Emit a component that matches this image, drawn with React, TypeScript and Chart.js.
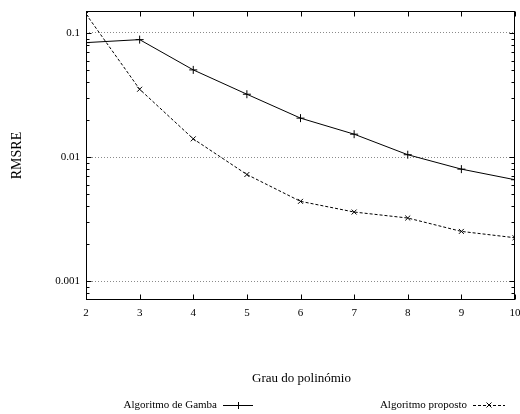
import React, { useEffect, useRef } from "react";
import { Chart, registerables } from "chart.js";

Chart.register(...registerables);

const degrees = [2, 3, 4, 5, 6, 7, 8, 9, 10];
const gambaValues = [0.0836, 0.0884, 0.0504, 0.0321, 0.0206, 0.0153, 0.01045, 0.008, 0.00657];
const propostoValues = [0.142, 0.0352, 0.01403, 0.00724, 0.0044, 0.00361, 0.00323, 0.00252, 0.00224];
const yTickValues = [0.001, 0.01, 0.1];
const seriesNames = ["Algoritmo de Gamba", "Algoritmo proposto"];
const xTitle = "Grau do polinómio";
const yTitle = "RMSRE";

const FONT = "'Liberation Serif', 'Times New Roman', serif";

const framePlugin = {
  id: "gnuplotFrame",
  afterDatasetsDraw(chart: any) {
    const { ctx, chartArea } = chart;
    const xs = chart.scales.x;
    const ys = chart.scales.y;
    const L = Math.round(chartArea.left) + 0.5;
    const R = Math.round(chartArea.right) - 0.5;
    const T = Math.round(chartArea.top) + 0.5;
    const B = Math.round(chartArea.bottom) - 0.5;
    ctx.save();
    ctx.strokeStyle = "#000";
    ctx.lineWidth = 1;
    ctx.setLineDash([]);
    ctx.strokeRect(L, T, R - L, B - T);
    ctx.beginPath();
    // x ticks (bottom and top, inward)
    for (const d of degrees) {
      const px = Math.round(xs.getPixelForValue(d)) + 0.5;
      ctx.moveTo(px, B);
      ctx.lineTo(px, B - 5);
      ctx.moveTo(px, T);
      ctx.lineTo(px, T + 5);
    }
    // y ticks (left and right, inward), major and minor
    for (let e = -5; e <= 0; e++) {
      for (let m = 1; m <= 9; m++) {
        const v = m * Math.pow(10, e);
        if (v < ys.min || v > ys.max) continue;
        const py = Math.round(ys.getPixelForValue(v)) + 0.5;
        const len = m === 1 ? 5 : 3;
        ctx.moveTo(L, py);
        ctx.lineTo(L + len, py);
        ctx.moveTo(R, py);
        ctx.lineTo(R - len, py);
      }
    }
    ctx.stroke();

    // axis titles
    ctx.fillStyle = "#000";
    ctx.font = `13px ${FONT}`;
    ctx.textAlign = "center";
    ctx.textBaseline = "middle";
    ctx.fillText(xTitle, (chartArea.left + chartArea.right) / 2 + 1, 379);
    ctx.save();
    ctx.translate(17, (chartArea.top + chartArea.bottom) / 2);
    ctx.rotate(-Math.PI / 2);
    ctx.font = `14px ${FONT}`;
    ctx.fillText(yTitle, 0, 0);
    ctx.restore();

    // legend
    const legendY = 405;
    const entries = [
      { text: seriesNames[0], textRight: 217, x1: 223, x2: 253, dash: [] as number[], style: "cross" },
      { text: seriesNames[1], textRight: 467, x1: 473, x2: 505, dash: [3, 2], style: "crossRot" },
    ];
    ctx.font = `11px ${FONT}`;
    ctx.textAlign = "right";
    for (const en of entries) {
      ctx.fillText(en.text, en.textRight, legendY);
      ctx.beginPath();
      ctx.setLineDash(en.dash);
      ctx.moveTo(en.x1, legendY + 0.5);
      ctx.lineTo(en.x2, legendY + 0.5);
      ctx.stroke();
      ctx.setLineDash([]);
      const cx = (en.x1 + en.x2) / 2;
      ctx.beginPath();
      if (en.style === "cross") {
        ctx.moveTo(cx - 3.5, legendY + 0.5);
        ctx.lineTo(cx + 3.5, legendY + 0.5);
        ctx.moveTo(cx + 0.5, legendY - 3);
        ctx.lineTo(cx + 0.5, legendY + 4);
      } else {
        ctx.moveTo(cx - 2.5, legendY - 2.5);
        ctx.lineTo(cx + 2.5, legendY + 2.5);
        ctx.moveTo(cx - 2.5, legendY + 2.5);
        ctx.lineTo(cx + 2.5, legendY - 2.5);
      }
      ctx.stroke();
    }
    ctx.restore();
  },
};

export default function App() {
  const canvasRef = useRef<HTMLCanvasElement | null>(null);

  useEffect(() => {
    const canvas = canvasRef.current;
    if (!canvas) return;
    const chart = new Chart(canvas, {
      type: "line",
      data: {
        datasets: [
          {
            label: seriesNames[0],
            data: degrees.map((d, i) => ({ x: d, y: gambaValues[i] })),
            borderColor: "#000",
            backgroundColor: "#000",
            borderWidth: 1,
            pointStyle: "cross",
            pointRadius: 4,
            pointBorderWidth: 1,
            pointBorderColor: "#000",
            fill: false,
            tension: 0,
          },
          {
            label: seriesNames[1],
            data: degrees.map((d, i) => ({ x: d, y: propostoValues[i] })),
            borderColor: "#000",
            backgroundColor: "#000",
            borderWidth: 1,
            borderDash: [3, 2],
            pointStyle: "crossRot",
            pointRadius: 3.5,
            pointBorderWidth: 1,
            pointBorderColor: "#000",
            fill: false,
            tension: 0,
          },
        ],
      },
      options: {
        responsive: false,
        animation: false,
        devicePixelRatio: 1,
        layout: { padding: { top: 11, right: 2, left: 0, bottom: 0 } },
        plugins: {
          legend: { display: false },
          tooltip: { enabled: false },
        },
        scales: {
          x: {
            type: "linear",
            min: 2,
            max: 10,
            afterBuildTicks: (s: any) => {
              s.ticks = degrees.map((d) => ({ value: d }));
            },
            afterFit: (s: any) => {
              s.height = 114;
              s.paddingLeft = 0;
              s.paddingRight = 0;
            },
            ticks: {
              font: { family: FONT, size: 11 },
              color: "#000",
              padding: 7,
              maxRotation: 0,
              autoSkip: false,
              callback: (v: any) => String(v),
            },
            grid: { display: false, drawTicks: false },
            border: { display: false },
          },
          y: {
            type: "logarithmic",
            min: 0.000706,
            max: 0.1503,
            afterBuildTicks: (s: any) => {
              s.ticks = yTickValues.map((v) => ({ value: v, major: true }));
            },
            afterFit: (s: any) => {
              s.width = 86;
              s.paddingTop = 0;
              s.paddingBottom = 0;
            },
            ticks: {
              font: { family: FONT, size: 11 },
              color: "#000",
              padding: 6,
              autoSkip: false,
              callback: (v: any) => String(v),
            },
            grid: {
              display: true,
              drawTicks: false,
              color: "#8a8a8a",
              lineWidth: 1,
            },
            border: { display: false, dash: [1, 2] },
          },
        },
      },
      plugins: [framePlugin],
    });
    return () => chart.destroy();
  }, []);

  return (
    <div style={{ position: "fixed", left: 0, top: 0, width: 520, height: 414, background: "#fff" }}>
      <canvas ref={canvasRef} width={520} height={414} />
    </div>
  );
}
